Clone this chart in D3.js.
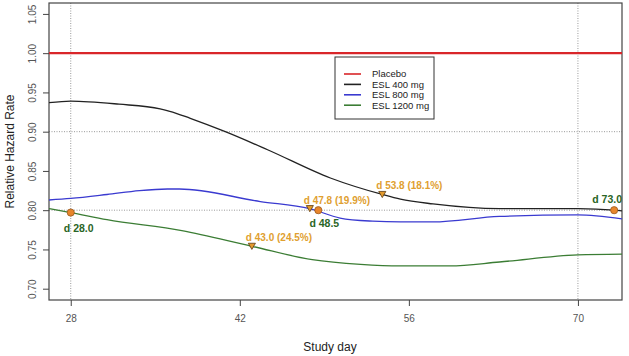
<!DOCTYPE html>
<html><head><meta charset="utf-8">
<script src="https://cdn.jsdelivr.net/npm/d3@7"></script>
<style>body{margin:0;background:#fff}svg{display:block;font-family:Arial,"Liberation Sans",sans-serif}</style>
</head><body><svg id="c" width="629" height="356"></svg>
<script>
const xTicks = [28, 42, 56, 70];
const yTicks = [0.70, 0.75, 0.80, 0.85, 0.90, 0.95, 1.00, 1.05];
const seriesNames = ["Placebo", "ESL 400 mg", "ESL 800 mg", "ESL 1200 mg"];
const seriesColors = ["#d9262a", "#222222", "#3a3ad0", "#3b7d34"];
const placeboDays = [26.2, 73.65];
const placeboValues = [1.0, 1.0];
const esl400Days = [26.2, 28, 32, 35.4, 36.2, 37.9, 40.8, 44.3, 49.5, 53.8, 55.3, 58, 63.5, 70, 73, 73.65];
const esl400Values = [0.937, 0.939, 0.935, 0.929, 0.926, 0.917, 0.900, 0.877, 0.841, 0.820, 0.814, 0.808, 0.802, 0.802, 0.800, 0.799];
const esl800Days = [26.2, 28, 31, 33.7, 36, 37, 43.7, 47.8, 50.3, 53, 55.3, 58, 63.5, 70, 73.65];
const esl800Values = [0.813, 0.815, 0.820, 0.825, 0.827, 0.827, 0.811, 0.802, 0.790, 0.786, 0.785, 0.785, 0.792, 0.794, 0.789];
const esl1200Days = [26.2, 28, 31, 37.2, 43, 48, 52, 55.3, 59.4, 63.5, 70, 73.65];
const esl1200Values = [0.802, 0.797, 0.788, 0.774, 0.754, 0.737, 0.731, 0.729, 0.729, 0.734, 0.743, 0.744];
const circleDays = [28.0, 48.5, 73.0];
const circleValues = [0.797, 0.800, 0.800];
const circleLabels = ["d 28.0", "d 48.5", "d 73.0"];
const triDays = [43.0, 47.8, 53.8];
const triValues = [0.754, 0.802, 0.820];
const triLabels = ["d 43.0 (24.5%)", "d 47.8 (19.9%)", "d 53.8 (18.1%)"];
const gridX = [28, 70];
const gridY = [0.80, 0.90];

const svg = d3.select("#c");
const L = 49, R = 622, T = 3, B = 300;
const x = d3.scaleLinear().domain([26.2, 73.65]).range([L, R]);
const y = d3.scaleLinear().domain([0.6856, 1.0639]).range([B, T]);

// grid
svg.append("g").selectAll("line").data(gridX).join("line")
  .attr("x1", d => x(d)).attr("x2", d => x(d)).attr("y1", T).attr("y2", B)
  .attr("stroke", "#999").attr("stroke-dasharray", "1,1.5").attr("stroke-width", 1);
svg.append("g").selectAll("line").data(gridY).join("line")
  .attr("x1", L).attr("x2", R).attr("y1", d => y(d)).attr("y2", d => y(d))
  .attr("stroke", "#999").attr("stroke-dasharray", "1,1.5").attr("stroke-width", 1);

// axes
const ax = svg.append("g").attr("transform", `translate(0,${B})`)
  .call(d3.axisBottom(x).tickValues(xTicks).tickSize(6).tickPadding(9).tickFormat(d3.format("d")));
const ay = svg.append("g").attr("transform", `translate(${L},0)`)
  .call(d3.axisLeft(y).tickValues(yTicks).tickSize(6).tickFormat(d3.format(".2f")));
[ax, ay].forEach(g => {
  g.select(".domain").remove();
  g.selectAll("line").attr("stroke", "#444");
  g.selectAll("text").attr("fill", "#555").attr("font-size", 10).attr("font-family", "Arial, 'Liberation Sans', sans-serif");
});
ay.selectAll("text").attr("x", null).attr("dy", null)
  .attr("text-anchor", "middle")
  .attr("transform", "translate(-17,0) rotate(-90)").attr("dy", "0.35em");

svg.append("rect").attr("x", L).attr("y", T).attr("width", R - L).attr("height", B - T)
  .attr("fill", "none").attr("stroke", "#444").attr("stroke-width", 1.2);

// titles
svg.append("text").attr("x", 330).attr("y", 351).attr("text-anchor", "middle")
  .attr("font-size", 12).attr("fill", "#222").text("Study day");
svg.append("text").attr("transform", `translate(14,${(T + B) / 2}) rotate(-90)`)
  .attr("text-anchor", "middle").attr("font-size", 12).attr("fill", "#222").text("Relative Hazard Rate");

// lines
svg.append("clipPath").attr("id", "clp").append("rect")
  .attr("x", L).attr("y", T).attr("width", R - L).attr("height", B - T);
const line = d3.line().x(d => x(d[0])).y(d => y(d[1])).curve(d3.curveMonotoneX);
const series = [
  [placeboDays, placeboValues, 2.2],
  [esl400Days, esl400Values, 1.3],
  [esl800Days, esl800Values, 1.3],
  [esl1200Days, esl1200Values, 1.3]
];
series.forEach((s, i) => {
  svg.append("path").attr("clip-path", "url(#clp)")
    .attr("d", line(d3.zip(s[0], s[1])))
    .attr("fill", "none").attr("stroke", seriesColors[i]).attr("stroke-width", s[2]);
});

// triangle markers
const tri = d3.symbol().type(d3.symbolTriangle).size(22);
triDays.forEach((d, i) => {
  svg.append("path").attr("d", tri())
    .attr("transform", `translate(${x(d)},${y(triValues[i]) - 1}) rotate(180)`)
    .attr("fill", "#e39a2d").attr("stroke", "#5a3a10").attr("stroke-width", 0.8);
  svg.append("text").attr("x", x(d) - 6).attr("y", y(triValues[i]) - 5)
    .attr("text-anchor", "start").attr("font-size", 10).attr("font-weight", "bold")
    .attr("fill", "#e0a030").text(triLabels[i]);
});
// circle markers
const circOffsets = [[8, 19], [6, 16.5], [-7, -7.5]];
circleDays.forEach((d, i) => {
  svg.append("circle").attr("cx", x(d)).attr("cy", y(circleValues[i])).attr("r", 3.6)
    .attr("fill", "#e8862c").attr("stroke", "#9a5a20").attr("stroke-width", 0.8);
  svg.append("text").attr("x", x(d) + circOffsets[i][0]).attr("y", y(circleValues[i]) + circOffsets[i][1])
    .attr("text-anchor", "middle").attr("font-size", 10.5).attr("font-weight", "bold")
    .attr("fill", "#2a6526").text(circleLabels[i]);
});

// legend
const lg = svg.append("g").attr("transform", "translate(335,57)");
lg.append("rect").attr("width", 99).attr("height", 62).attr("fill", "#fff")
  .attr("stroke", "#333").attr("stroke-width", 1);
seriesNames.forEach((n, i) => {
  const yy = 17 + i * 10.4;
  lg.append("line").attr("x1", 9).attr("x2", 26).attr("y1", yy).attr("y2", yy)
    .attr("stroke", seriesColors[i]).attr("stroke-width", 1.6);
  lg.append("text").attr("x", 37).attr("y", yy).attr("dy", "0.35em")
    .attr("font-size", 9.5).attr("fill", "#222").text(n);
});
</script></body></html>
